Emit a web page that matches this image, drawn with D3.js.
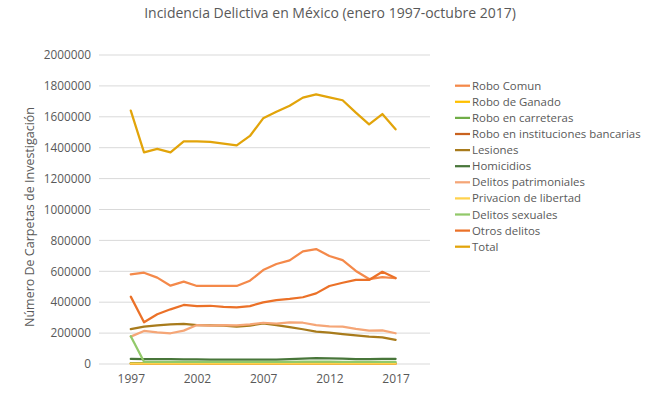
<!DOCTYPE html>
<html><head><meta charset="utf-8">
<script src="https://cdn.jsdelivr.net/npm/d3@7"></script>
<style>
html,body{margin:0;padding:0;background:#fff;}
svg{display:block;font-family:"Open Sans",sans-serif;}
</style></head>
<body>
<svg id="chart" width="659" height="399"></svg>
<script>
const years = [1997,1998,1999,2000,2001,2002,2003,2004,2005,2006,2007,2008,2009,2010,2011,2012,2013,2014,2015,2016,2017];
const xTickLabels = [1997,2002,2007,2012,2017];
const yTickValues = [0,200000,400000,600000,800000,1000000,1200000,1400000,1600000,1800000,2000000];

const roboComun = [580000,591000,559000,507000,533000,505000,505000,505000,505000,539000,608000,647000,671000,729000,744000,699000,672000,602000,550000,563000,555000];
const roboGanado = [4000,4000,4000,4000,4000,4000,4000,4000,4000,4000,4000,4000,4000,4000,4000,4000,4000,4000,4000,4000,4000];
const roboCarreteras = [6000,6000,6000,6000,6000,6000,6000,6000,6000,6000,6000,6000,6000,6000,6000,6000,6000,6000,6000,6000,6000];
const roboBancarias = [1500,1500,1500,1500,1500,1500,1500,1500,1500,1500,1500,1500,1500,1500,1500,1500,1500,1500,1500,1500,1500];
const lesiones = [226000,242000,250000,257000,259000,252000,250000,248000,242000,248000,263000,252000,238000,225000,209000,203000,194000,186000,177000,173000,156000];
const homicidios = [33000,32000,31000,31000,30000,30000,29000,29000,28000,29000,28000,29000,32000,35000,38000,37000,34000,32000,32000,33000,33000];
const delitosPatrimoniales = [177000,214000,205000,199000,216000,252000,248000,252000,250000,257000,267000,261000,270000,267000,252000,244000,242000,227000,216000,218000,199000];
const privacionLibertad = [2000,2000,2000,2000,2000,2000,2000,2000,2000,2000,2000,2000,2000,2000,2000,2000,2000,2000,2000,2000,2000];
const delitosSexuales = [180000,14000,14000,13000,13000,13000,13000,13000,13000,13000,13000,13000,14000,15000,16000,15000,14000,14000,14000,14000,14000];
const otrosDelitos = [436000,270000,322000,354000,382000,375000,377000,369000,367000,375000,399000,414000,421000,432000,457000,505000,526000,544000,544000,597000,556000];
const total = [1640000,1370000,1392000,1370000,1441000,1441000,1437000,1426000,1415000,1476000,1590000,1633000,1672000,1724000,1745000,1726000,1707000,1627000,1551000,1618000,1519000];

const seriesNames = ["Robo Comun","Robo de Ganado","Robo en carreteras","Robo en instituciones bancarias","Lesiones","Homicidios","Delitos patrimoniales","Privacion de libertad","Delitos sexuales","Otros delitos","Total"];
const seriesValues = [roboComun,roboGanado,roboCarreteras,roboBancarias,lesiones,homicidios,delitosPatrimoniales,privacionLibertad,delitosSexuales,otrosDelitos,total];
const seriesColors = ["#F4894A","#FFC000","#70AD47","#C9621F","#A87B1C","#48763A","#F5A677","#FFD24D","#92C96A","#EB7128","#E2A40A"];

const svg = d3.select("#chart");
const x = d3.scaleLinear().domain([1994.6,2019.6]).range([99,430]);
const y = d3.scaleLinear().domain([0,2000000]).range([364,55]);
const textColor = "#595959";

// title
svg.append("text").attr("x",330).attr("y",18).attr("text-anchor","middle")
  .attr("font-size",14).attr("fill",textColor)
  .text("Incidencia Delictiva en México (enero 1997-octubre 2017)");

// gridlines
svg.append("g").selectAll("line").data(yTickValues).join("line")
  .attr("x1",99).attr("x2",430).attr("y1",d=>y(d)).attr("y2",d=>y(d))
  .attr("stroke","#D9D9D9").attr("stroke-width",1);

// y axis
const yAxis = svg.append("g").attr("transform","translate(99,0)")
  .call(d3.axisLeft(y).tickValues(yTickValues).tickFormat(d3.format("d")).tickSize(0).tickPadding(8));
yAxis.select(".domain").remove();
yAxis.selectAll("text").attr("fill",textColor).attr("font-size",11.8).attr("font-family","Open Sans");

// x axis
const xAxis = svg.append("g").attr("transform","translate(0,364)")
  .call(d3.axisBottom(x).tickValues(xTickLabels).tickFormat(d3.format("d")).tickSize(0).tickPadding(10));
xAxis.select(".domain").remove();
xAxis.selectAll("text").attr("fill",textColor).attr("font-size",12).attr("font-family","Open Sans");

// y title
svg.append("text").attr("transform","translate(34,217) rotate(-90)").attr("text-anchor","middle")
  .attr("font-size",12.5).attr("fill",textColor)
  .text("Número De Carpetas de Investigación");

// lines
const line = d3.line().x((d,i)=>x(years[i])).y(d=>y(d));
svg.append("g").selectAll("path").data(seriesValues).join("path")
  .attr("d",d=>line(d)).attr("fill","none")
  .attr("stroke",(d,i)=>seriesColors[i]).attr("stroke-width",2.25)
  .attr("stroke-linejoin","round").attr("stroke-linecap","round");

// legend
const lg = svg.append("g").selectAll("g").data(seriesNames).join("g")
  .attr("transform",(d,i)=>`translate(455,${85.7+i*16.1})`);
lg.append("line").attr("x1",0).attr("x2",15).attr("y1",0).attr("y2",0)
  .attr("stroke",(d,i)=>seriesColors[i]).attr("stroke-width",2.25);
lg.append("text").attr("x",17).attr("y",0).attr("dy","0.35em")
  .attr("font-size",11.4).attr("fill",textColor).text(d=>d);
</script>
</body></html>
